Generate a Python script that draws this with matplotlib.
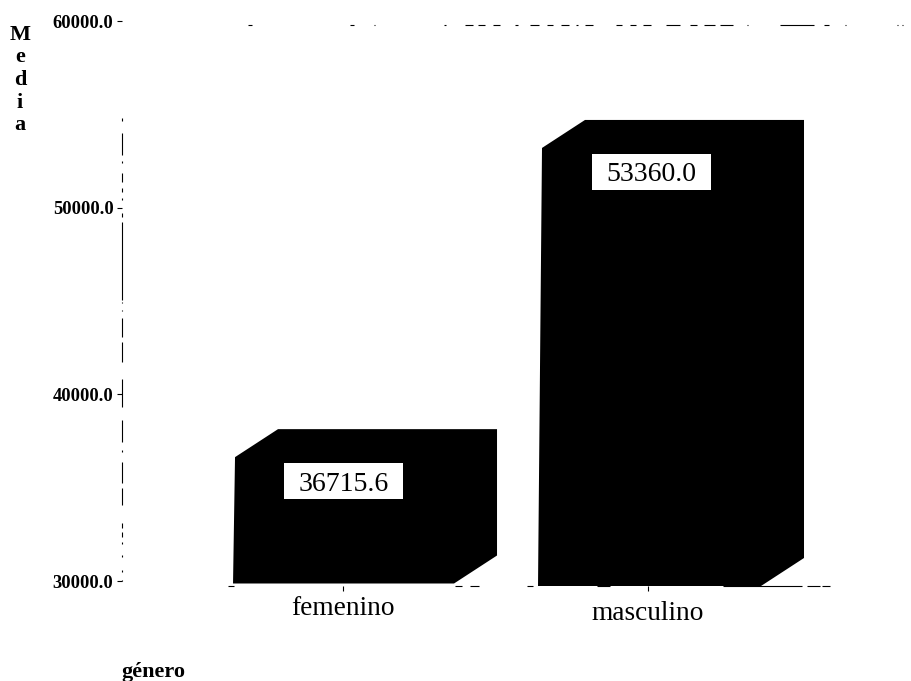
import matplotlib
matplotlib.use("Agg")
import matplotlib.pyplot as plt
from matplotlib.patches import Rectangle
from matplotlib.transforms import ScaledTranslation

plt.rcParams['font.family'] = ['Liberation Serif', 'DejaVu Serif']

# Datos
categorias = ["femenino", "masculino"]
medias = [36715.6, 53360.0]
ticks_media = [30000.0, 40000.0, 50000.0, 60000.0]

# Escala de la figura (pixeles de la referencia)
W, H = 911, 681
AX_L, AX_R, AX_T, AX_B = 122, 835, 21, 581
PX_X = 305.0                      # pixeles por categoria
PX_Y = (AX_B - AX_T) / 30000.0    # pixeles por unidad
X0 = 343

# Trozos visibles de los ejes rotos del escaneo, en pixeles
trozos_arriba = [(248, 252), (350, 354), (374, 375), (444, 446), (465, 473), (478, 485),
                 (493, 500), (515, 518), (530, 539), (547, 553), (561, 569), (576, 578),
                 (585, 593), (616, 622), (630, 636), (643, 651), (666, 680), (690, 697),
                 (704, 715), (720, 733), (747, 748), (780, 814), (824, 829), (845, 846),
                 (897, 898), (902, 903)]
trozos_abajo = [(228, 234), (455, 462), (470, 479), (527, 533), (597, 610), (723, 802),
                (807, 820), (822, 830)]
trozos_izq = [(118, 121), (133, 155), (161, 163), (173, 182), (188, 192), (198, 200),
              (213, 217), (222, 300), (302, 303), (310, 311), (318, 337), (342, 362),
              (379, 407), (420, 442), (450, 452), (462, 483), (488, 505), (523, 528),
              (532, 537), (542, 544), (555, 557), (570, 572), (580, 581)]


def xdato(px):
    return (px - X0) / PX_X


def ydato(px):
    return 30000 + (AX_B - px) / PX_Y


def horizontales(trozos, y_px):
    for a, b in trozos:
        ax.plot([xdato(a), xdato(b)], [ydato(y_px)] * 2, color="black", lw=0.8,
                solid_capstyle="butt", clip_on=False, zorder=4)


fig = plt.figure(figsize=(W / 100, H / 100), dpi=100, facecolor="white")
ax = fig.add_axes([AX_L / W, 1 - AX_B / H, (AX_R - AX_L) / W, (AX_B - AX_T) / H])

# Barras con efecto 3D
ancho = 219 / PX_X
dx = 43 / PX_X
dy = 28 / PX_Y
base = 30000
# el escaneo esta algo torcido: cada barra baja y se inclina unos pixeles
caida_base = [2.5 / PX_Y, 5 / PX_Y]
caida_tope = [1.5 / PX_Y, 3 / PX_Y]
sesgo = [2 / PX_X, 4 / PX_X]
centro = [0.005, 1.0115]
centro_etiqueta = [0.002, 1.0115]

for x, xe, m, cb, ct, s in zip(centro, centro_etiqueta, medias, caida_base, caida_tope, sesgo):
    izq, der = x - ancho / 2, x + ancho / 2
    abajo, arriba = base - cb, m - ct
    ax.fill([izq - s, izq, izq + dx, der + dx, der + dx, der],
            [abajo, arriba, arriba + dy, arriba + dy, abajo + dy, abajo],
            color="black", lw=0, zorder=3, clip_on=False)
    # etiqueta con el valor
    yc = arriba - 24 / PX_Y
    ax.add_patch(Rectangle((xe - 59.5 / PX_X, yc - 18 / PX_Y), 119 / PX_X, 36 / PX_Y,
                           facecolor="white", edgecolor="none", zorder=4))
    ax.text(xe, yc, f"{m:.1f}", ha="center", va="center_baseline", fontsize=20, color="black", zorder=5)

# Ejes: lineas rotas a trozos
for lado in ["left", "right", "top"]:
    ax.spines[lado].set_visible(False)
ax.spines["bottom"].set_position(("data", 30000 - 5 / PX_Y))
ax.spines["bottom"].set_color("none")

for a, b in trozos_izq:
    ax.plot([xdato(AX_L)] * 2, [ydato(b), ydato(a)], color="black", lw=0.8,
            solid_capstyle="butt", clip_on=False, zorder=4)
horizontales(trozos_arriba, 24.5)
horizontales(trozos_abajo, 586)

ax.set_xlim(xdato(AX_L), xdato(AX_R))
ax.set_ylim(30000, 60000)

ax.set_yticks(ticks_media)
ax.set_yticklabels([f"{t:.1f}" for t in ticks_media], fontsize=13.3, fontweight="bold")
ax.tick_params(axis="y", length=3.6, width=0.8, pad=2.5)

ax.set_xticks([0, 1])
ax.set_xticklabels(categorias, fontsize=19.7)
ax.tick_params(axis="x", length=3.5, width=0.8, pad=3.6)
etiqueta = ax.get_xticklabels()[1]
etiqueta.set_transform(etiqueta.get_transform() + ScaledTranslation(0, -5 / 100, fig.dpi_scale_trans))

# Titulos de los ejes
fig.text(20 / W, 1 - 80 / H, "M\ne\nd\ni\na", ha="center", va="center", fontsize=16,
         fontweight="bold", linespacing=1.17)
fig.text(121 / W, 1 - 672 / H, "género", ha="left", va="center", fontsize=16, fontweight="bold")

fig.savefig("out.png", dpi=100, facecolor="white")
